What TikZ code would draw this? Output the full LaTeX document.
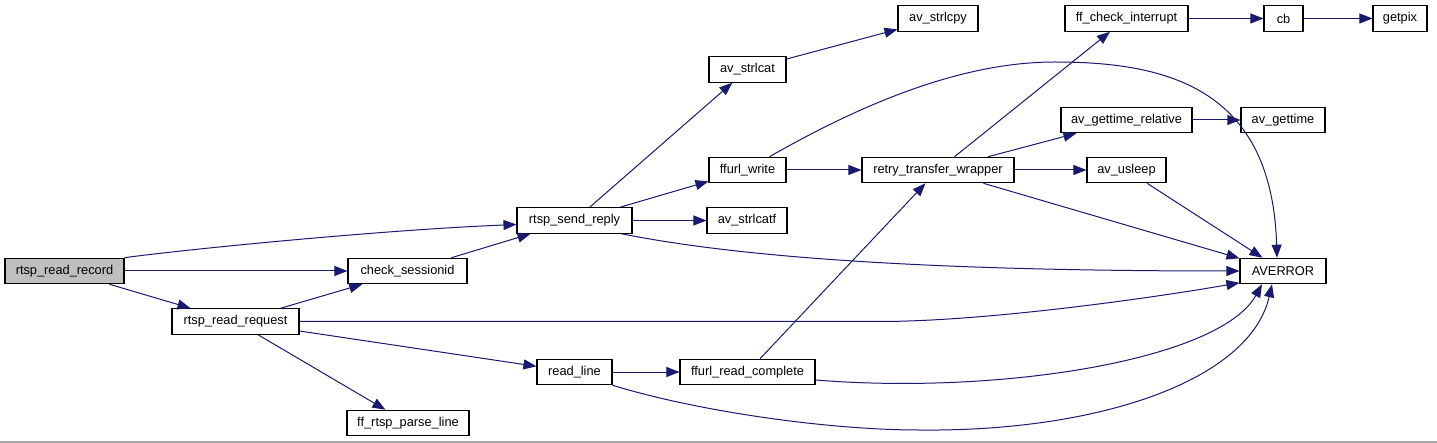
\documentclass[tikz,border=0pt]{standalone}
\usepackage{fontspec}
\setmainfont{Liberation Sans}
\usetikzlibrary{arrows.meta}
\definecolor{calledge}{HTML}{191970}
\tikzset{fn/.style={draw=black, line width=1.1pt, fill=white, minimum height=25.5pt, minimum width=#1, inner sep=0pt, font=\fontsize{12.8}{14}\selectfont},
  call/.style={draw=calledge, line width=1pt, -{Triangle[length=13pt,width=10pt]}}}
\begin{document}
\begin{tikzpicture}[x=1pt,y=-1pt]
\useasboundingbox (0,0) rectangle (1437,443);
\draw[gray!70, line width=1.5pt] (0,442) -- (1437,442);
% callers:
\node[fn=119pt, fill=gray!50] (rtsp_read_record) at (64.5,271) {rtsp\_read\_record};
\node[fn=127pt] (rtsp_read_request) at (235.5,321.5) {rtsp\_read\_request};
\node[fn=119pt] (check_sessionid) at (407.5,271) {check\_sessionid};
\node[fn=122pt] (ff_rtsp_parse_line) at (408,423) {ff\_rtsp\_parse\_line};
\node[fn=115pt] (rtsp_send_reply) at (574.5,220.5) {rtsp\_send\_reply};
\node[fn=75pt] (read_line) at (574.5,372) {read\_line};
% middle columns:
\node[fn=77pt] (av_strlcat) at (747.5,69.5) {av\_strlcat};
\node[fn=77pt] (ffurl_write) at (747.5,170) {ffurl\_write};
\node[fn=80pt] (av_strlcatf) at (747,220.5) {av\_strlcatf};
\node[fn=135pt] (ffurl_read_complete) at (747.5,372) {ffurl\_read\_complete};
\node[fn=80pt] (av_strlcpy) at (938,18.5) {av\_strlcpy};
\node[fn=152pt] (retry_transfer_wrapper) at (938,170) {retry\_transfer\_wrapper};
% leaves:
\node[fn=123pt] (ff_check_interrupt) at (1126.5,18.5) {ff\_check\_interrupt};
\node[fn=131pt] (av_gettime_relative) at (1126.5,120) {av\_gettime\_relative};
\node[fn=79pt] (av_usleep) at (1126.5,170) {av\_usleep};
\node[fn=39pt] (cb) at (1283.5,18.5) {cb};
\node[fn=84pt] (av_gettime) at (1283,120) {av\_gettime};
\node[fn=86pt] (AVERROR) at (1283,271) {AVERROR};
\node[fn=54pt] (getpix) at (1400,18.5) {getpix};
% straight calls:
\draw[call] (rtsp_read_record) -- (check_sessionid); \draw[call] (rtsp_read_record) -- (rtsp_read_request);
\draw[call] (rtsp_read_request) -- (check_sessionid); \draw[call] (rtsp_read_request) -- (read_line);
\draw[call] (rtsp_read_request) -- (ff_rtsp_parse_line); \draw[call] (check_sessionid) -- (rtsp_send_reply);
\draw[call] (rtsp_send_reply) -- (av_strlcat); \draw[call] (rtsp_send_reply) -- (ffurl_write);
\draw[call] (rtsp_send_reply) -- (av_strlcatf); \draw[call] (av_strlcat) -- (av_strlcpy);
\draw[call] (ffurl_write) -- (retry_transfer_wrapper); \draw[call] (read_line) -- (ffurl_read_complete);
\draw[call] (ffurl_read_complete) -- (retry_transfer_wrapper);
\draw[call] (retry_transfer_wrapper) -- (ff_check_interrupt); \draw[call] (retry_transfer_wrapper) -- (av_gettime_relative);
\draw[call] (retry_transfer_wrapper) -- (av_usleep); \draw[call] (retry_transfer_wrapper) -- (AVERROR);
\draw[call] (ff_check_interrupt) -- (cb); \draw[call] (cb) -- (getpix);
\draw[call] (av_gettime_relative) -- (av_gettime); \draw[call] (av_usleep) -- (AVERROR);
% curved calls:
\draw[call] (rtsp_read_record.north east) .. controls (180,250) and (380,230) .. ([yshift=-4pt]rtsp_send_reply.west);
\draw[call] (rtsp_read_request.east) -- (880,321.5) .. controls (980,321.5) and (1140,300) .. ([yshift=1.5pt]AVERROR.south west);
\draw[call] ([xshift=-11pt]rtsp_send_reply.south east) .. controls (721,253.5) and (890,271) .. (AVERROR.west);
\draw[call] ([xshift=22pt]ffurl_write.north) .. controls (860,105) and (960,62) .. (1055,62) .. controls (1170,62) and (1272,90) .. ([xshift=-6pt]AVERROR.north);
\draw[call] (read_line.south east) .. controls (700,412) and (830,430) .. (919,430) .. controls (1100,432) and (1250,380) .. ([xshift=-11pt]AVERROR.south);
\draw[call] ([yshift=-8pt]ffurl_read_complete.east) .. controls (1000,395) and (1220,360) .. ([xshift=-21pt]AVERROR.south);
\end{tikzpicture}
\end{document}
